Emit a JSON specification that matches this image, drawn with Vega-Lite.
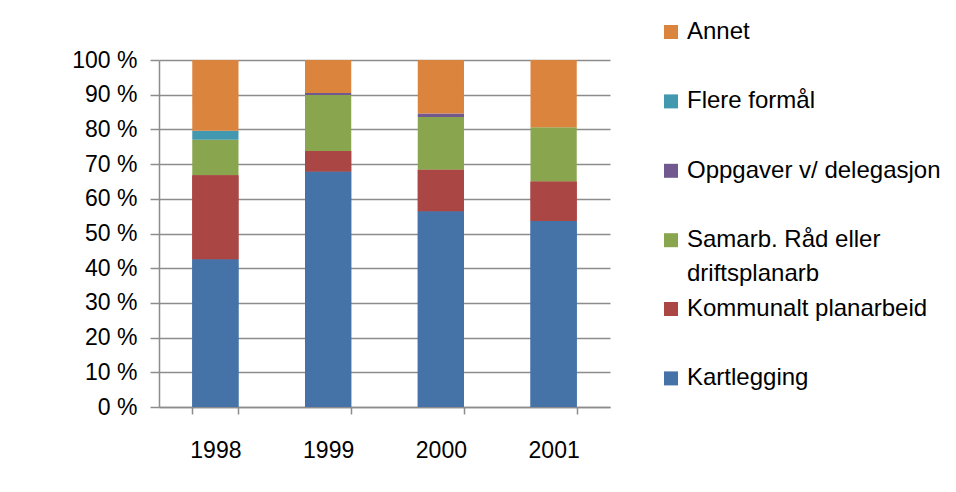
{
  "$schema": "https://vega.github.io/schema/vega-lite/v6.json",
  "width": 451,
  "height": 347,
  "autosize": {"type": "none"},
  "padding": {"left": 159, "top": 60, "right": 346, "bottom": 85},
  "background": "white",
  "data": {
    "values": [
      {"year": "1998", "category": "Kartlegging", "value": 42.6},
      {"year": "1998", "category": "Kommunalt planarbeid", "value": 24.2},
      {"year": "1998", "category": "Samarb. Råd eller driftsplanarb", "value": 10.2},
      {"year": "1998", "category": "Oppgaver v/ delegasjon", "value": 0},
      {"year": "1998", "category": "Flere formål", "value": 2.6},
      {"year": "1998", "category": "Annet", "value": 20.4},
      {"year": "1999", "category": "Kartlegging", "value": 67.9},
      {"year": "1999", "category": "Kommunalt planarbeid", "value": 5.9},
      {"year": "1999", "category": "Samarb. Råd eller driftsplanarb", "value": 16.1},
      {"year": "1999", "category": "Oppgaver v/ delegasjon", "value": 0.6},
      {"year": "1999", "category": "Flere formål", "value": 0},
      {"year": "1999", "category": "Annet", "value": 9.5},
      {"year": "2000", "category": "Kartlegging", "value": 56.4},
      {"year": "2000", "category": "Kommunalt planarbeid", "value": 12.0},
      {"year": "2000", "category": "Samarb. Råd eller driftsplanarb", "value": 15.2},
      {"year": "2000", "category": "Oppgaver v/ delegasjon", "value": 1.0},
      {"year": "2000", "category": "Flere formål", "value": 0},
      {"year": "2000", "category": "Annet", "value": 15.4},
      {"year": "2001", "category": "Kartlegging", "value": 53.6},
      {"year": "2001", "category": "Kommunalt planarbeid", "value": 11.4},
      {"year": "2001", "category": "Samarb. Råd eller driftsplanarb", "value": 15.6},
      {"year": "2001", "category": "Oppgaver v/ delegasjon", "value": 0},
      {"year": "2001", "category": "Flere formål", "value": 0},
      {"year": "2001", "category": "Annet", "value": 19.4}
    ]
  },
  "transform": [
    {"calculate": "indexof(['Kartlegging', 'Kommunalt planarbeid', 'Samarb. Råd eller driftsplanarb', 'Oppgaver v/ delegasjon', 'Flere formål', 'Annet'], datum.category)", "as": "stackRank"}
  ],
  "encoding": {
    "x": {
      "field": "year",
      "type": "nominal",
      "scale": {"paddingInner": 0.59, "paddingOuter": 0.295},
      "axis": {
        "title": null,
        "labelAngle": 0,
        "labelFont": "Liberation Sans",
        "labelFontSize": 23,
        "labelColor": "#000000",
        "labelPadding": 25,
        "tickBand": "extent",
        "tickSize": 7,
        "tickColor": "#8c8c8c",
        "tickWidth": 1.5,
        "domainColor": "#8c8c8c",
        "domainWidth": 1.5,
        "grid": false
      }
    },
    "y": {
      "field": "value",
      "type": "quantitative",
      "stack": "zero",
      "scale": {"domain": [0, 100], "nice": false},
      "axis": {
        "title": null,
        "values": [0, 10, 20, 30, 40, 50, 60, 70, 80, 90, 100],
        "labelExpr": "datum.value + ' %'",
        "labelFont": "Liberation Sans",
        "labelFontSize": 23,
        "labelColor": "#000000",
        "labelPadding": 13,
        "tickSize": 9,
        "tickColor": "#8c8c8c",
        "tickWidth": 1.5,
        "domainColor": "#8c8c8c",
        "domainWidth": 1.5,
        "grid": true,
        "gridColor": "#8c8c8c",
        "gridWidth": 1.5
      }
    },
    "order": {"field": "stackRank", "type": "quantitative", "sort": "ascending"}
  },
  "layer": [
    {
      "mark": {"type": "bar"},
      "encoding": {
        "color": {
          "field": "category",
          "type": "nominal",
          "scale": {
            "domain": ["Annet", "Flere formål", "Oppgaver v/ delegasjon", "Samarb. Råd eller driftsplanarb", "Kommunalt planarbeid", "Kartlegging"],
            "range": ["#DB843D", "#4198AF", "#71588F", "#89A54E", "#AA4643", "#4572A7"]
          },
          "legend": {
            "title": null,
            "orient": "none",
            "legendX": 500,
            "legendY": -40,
            "padding": 0,
            "values": ["Annet", "Flere formål", "Oppgaver v/ delegasjon", "Samarb. Råd eller driftsplanarb"],
            "symbolType": "square",
            "symbolSize": 196,
            "symbolStrokeWidth": 0,
            "labelFont": "Liberation Sans",
            "labelFontSize": 24,
            "labelColor": "#000000",
            "labelOffset": 4,
            "labelLimit": 400,
            "rowPadding": 45.4,
            "labelExpr": "datum.label == 'Samarb. Råd eller driftsplanarb' ? ['Samarb. Råd eller', 'driftsplanarb'] : datum.label"
          }
        }
      }
    },
    {
      "transform": [
        {"filter": {"field": "category", "oneOf": ["Kommunalt planarbeid", "Kartlegging"]}}
      ],
      "mark": {"type": "bar"},
      "encoding": {
        "fill": {
          "field": "category",
          "type": "nominal",
          "scale": {
            "domain": ["Kommunalt planarbeid", "Kartlegging"],
            "range": ["#AA4643", "#4572A7"]
          },
          "legend": {
            "title": null,
            "orient": "none",
            "legendX": 500,
            "legendY": 237,
            "padding": 0,
            "symbolType": "square",
            "symbolSize": 196,
            "symbolStrokeWidth": 0,
            "labelFont": "Liberation Sans",
            "labelFontSize": 24,
            "labelColor": "#000000",
            "labelOffset": 4,
            "labelLimit": 400,
            "rowPadding": 45.4
          }
        }
      }
    }
  ],
  "config": {
    "view": {"stroke": null},
    "style": {"guide-label": {"lineHeight": 34}}
  }
}
